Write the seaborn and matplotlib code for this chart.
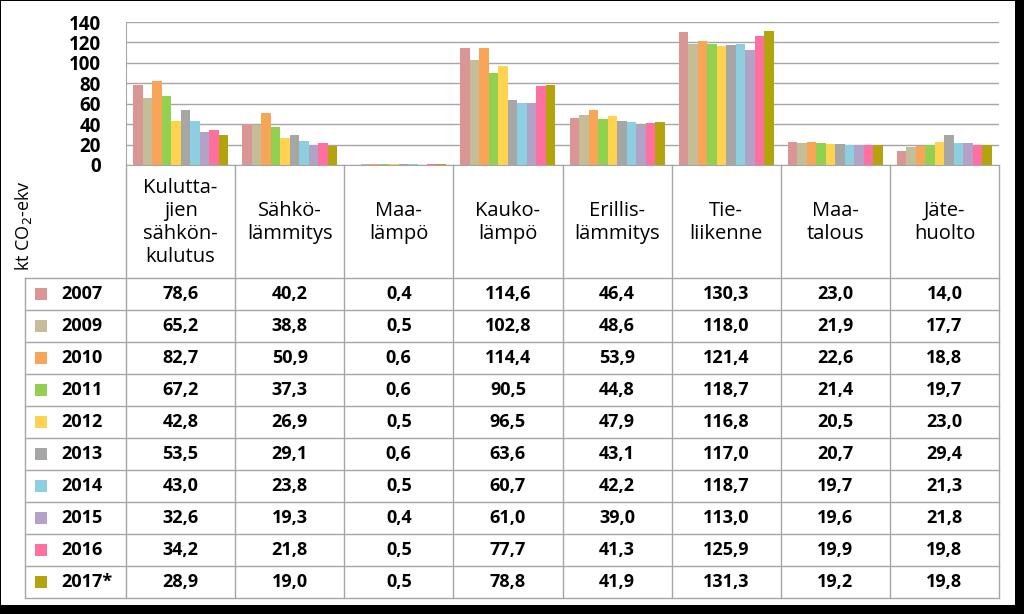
import pandas as pd
import matplotlib.pyplot as plt
import seaborn as sns
from matplotlib.patches import Rectangle

# Data
categories = ["Kulutta-\njien\nsähkön-\nkulutus", "Sähkö-\nlämmitys", "Maa-\nlämpö",
              "Kauko-\nlämpö", "Erillis-\nlämmitys", "Tie-\nliikenne",
              "Maa-\ntalous", "Jäte-\nhuolto"]
years = ["2007", "2009", "2010", "2011", "2012", "2013", "2014", "2015", "2016", "2017*"]
values = {
    "2007":  [78.6, 40.2, 0.4, 114.6, 46.4, 130.3, 23.0, 14.0],
    "2009":  [65.2, 38.8, 0.5, 102.8, 48.6, 118.0, 21.9, 17.7],
    "2010":  [82.7, 50.9, 0.6, 114.4, 53.9, 121.4, 22.6, 18.8],
    "2011":  [67.2, 37.3, 0.6, 90.5, 44.8, 118.7, 21.4, 19.7],
    "2012":  [42.8, 26.9, 0.5, 96.5, 47.9, 116.8, 20.5, 23.0],
    "2013":  [53.5, 29.1, 0.6, 63.6, 43.1, 117.0, 20.7, 29.4],
    "2014":  [43.0, 23.8, 0.5, 60.7, 42.2, 118.7, 19.7, 21.3],
    "2015":  [32.6, 19.3, 0.4, 61.0, 39.0, 113.0, 19.6, 21.8],
    "2016":  [34.2, 21.8, 0.5, 77.7, 41.3, 125.9, 19.9, 19.8],
    "2017*": [28.9, 19.0, 0.5, 78.8, 41.9, 131.3, 19.2, 19.8],
}
colors = ["#D99694", "#C4BD97", "#F9A557", "#92D050", "#FFD24F",
          "#A6A6A6", "#8DCFE0", "#B3A2C7", "#FF6F9F", "#B3A30C"]

rows = []
for y in years:
    for c, v in zip(categories, values[y]):
        rows.append({"cat": c, "year": y, "val": v})
df = pd.DataFrame(rows)

W, H = 1024, 614
plt.rcParams['font.family'] = ['Open Sans', 'DejaVu Sans']
fig = plt.figure(figsize=(W / 100, H / 100), dpi=100)
fig.patch.set_facecolor("black")
fig.patches.append(Rectangle((1 / W, 1 - 605 / H), 1014 / W, 604 / H,
                             transform=fig.transFigure, facecolor="white",
                             edgecolor="none", zorder=-5))

grid_c = "#A6A6A6"
x0, x1 = 126, 999
top, base = 22, 165
colw = (x1 - x0) / len(categories)

ax = fig.add_axes([x0 / W, 1 - base / H, (x1 - x0) / W, (base - top) / H])
ax.patch.set_alpha(0)
sns.barplot(data=df, x="cat", y="val", hue="year", order=categories, hue_order=years,
            palette=colors, saturation=1, width=0.87, legend=False, ax=ax)
ax.set_xlim(-0.5, len(categories) - 0.5)
ax.set_ylim(0, 140)
ax.set_yticks(range(0, 141, 20))
ax.yaxis.grid(True, color=grid_c, linewidth=1)
ax.set_axisbelow(True)
ax.set_xticks([])
ax.set_xlabel("")
ax.set_ylabel("")
for s in ["top", "right"]:
    ax.spines[s].set_visible(False)
for s in ["left", "bottom"]:
    ax.spines[s].set_color(grid_c)
ax.tick_params(axis="y", length=0, pad=18)
for t in ax.get_yticklabels():
    t.set_fontweight("bold")
    t.set_fontsize(13.5)

# Data table below the chart
tax = fig.add_axes([0, 0, 1, 1])
tax.set_xlim(0, W)
tax.set_ylim(H, 0)
tax.axis("off")

row0, rowh = 278, 32
tbl_left = 25
tbl_bottom = row0 + rowh * len(years)
for i in range(len(categories) + 1):
    tax.plot([x0 + colw * i] * 2, [base, tbl_bottom], color=grid_c, lw=1)
tax.plot([tbl_left] * 2, [row0, tbl_bottom], color=grid_c, lw=1)
for j in range(len(years) + 1):
    tax.plot([tbl_left, x1], [row0 + rowh * j] * 2, color=grid_c, lw=1)

for i, c in enumerate(categories):
    tax.text(x0 + colw * (i + 0.5), (base + row0) / 2 + 1, c, ha="center", va="center",
             fontsize=14.5, linespacing=1.22)

for j, y in enumerate(years):
    cy = row0 + rowh * (j + 0.5)
    tax.add_patch(Rectangle((35, cy - 6), 12, 12, facecolor=colors[j], edgecolor="none"))
    tax.text(61, cy, y, ha="left", va="center", fontsize=13, fontweight="bold")
    for i, v in enumerate(values[y]):
        tax.text(x0 + colw * (i + 0.5), cy, f"{v:.1f}".replace(".", ","),
                 ha="center", va="center", fontsize=13, fontweight="bold")

fig.text(23 / W, 1 - 226 / H, "kt CO$_2$-ekv", rotation=90, ha="center", va="center",
         fontsize=13)

plt.savefig("out.png", dpi=100, facecolor=fig.get_facecolor())
